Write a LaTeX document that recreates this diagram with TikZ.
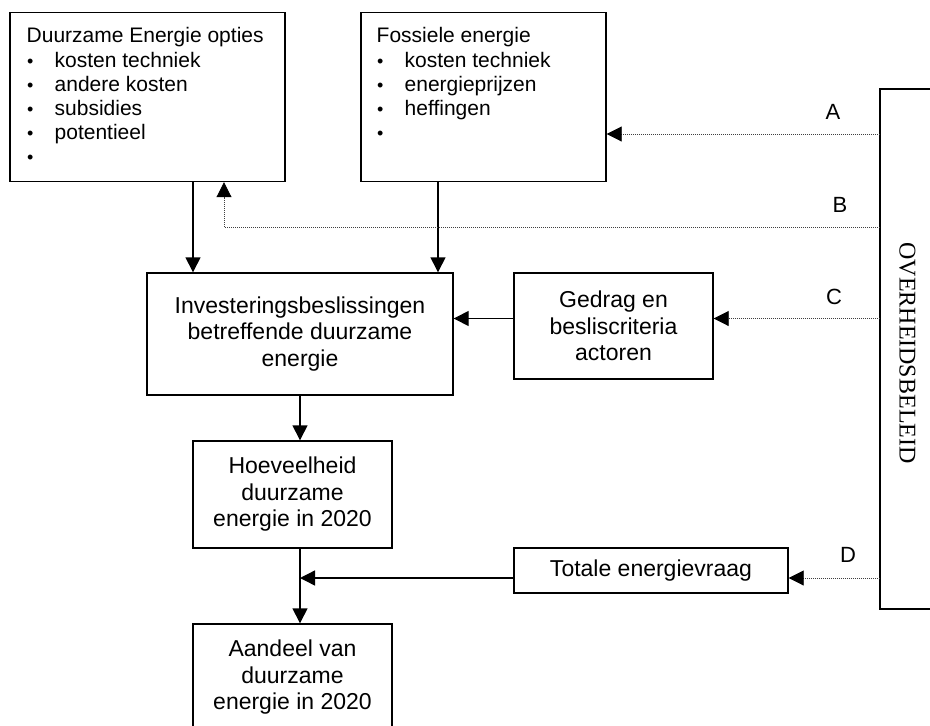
\documentclass[tikz,border=0pt]{standalone}
\usepackage{fontspec}
\setmainfont{Liberation Sans}
\newfontfamily\tnrfont{Liberation Serif}
\usetikzlibrary{arrows.meta}
\newcommand\mybul{\makebox[28pt][l]{\hspace{0.5pt}{\fontsize{18}{18}\selectfont •}}}
\begin{document}
\begin{tikzpicture}[x=1pt,y=-1pt,
  box/.style={draw, line width=1.4pt, inner sep=0pt, align=center},
  big/.style={font=\fontsize{23}{26.5}\selectfont},
  small/.style={font=\fontsize{21}{24.2}\selectfont},
  arr/.style={line width=1.4pt, -{Triangle[length=15pt,width=15pt]}},
  darr/.style={line width=0.9pt, draw=black!75, dash pattern=on 1pt off 1pt, -{Triangle[length=15pt,width=15pt,black]}},
  lab/.style={font=\fontsize{22}{22}\selectfont, inner sep=0pt}]
\useasboundingbox (0,0) rectangle (930,726);
\clip (0,0) rectangle (930,726);

% list boxes
\node[box, minimum width=275pt, minimum height=169pt] (box1) at (147.5,97) {};
\node[small, inner sep=0pt, anchor=north west, align=left] (t1) at (26.5,27.5)
  {Duurzame Energie opties\\\mybul kosten techniek\\\mybul andere kosten\\\mybul subsidies\\\mybul potentieel\\\mybul};
\node[box, minimum width=245pt, minimum height=169pt] (box2) at (483.5,97) {};
\node[small, inner sep=0pt, anchor=north west, align=left] (t2) at (376.5,27.5)
  {Fossiele energie\\\mybul kosten techniek\\\mybul energieprijzen\\\mybul heffingen\\\mybul};

% main boxes
\node[box, big, minimum width=306pt, minimum height=122pt] (invest) at (300,334)
  {Investeringsbeslissingen\\betreffende duurzame\\energie};
\node[box, big, minimum width=199pt, minimum height=106pt] (gedrag) at (613.5,326)
  {Gedrag en\\besliscriteria\\actoren};
\node[box, big, minimum width=199pt, minimum height=107pt] (hoev) at (292.5,494.5)
  {Hoeveelheid\\duurzame\\energie in 2020};
\node[box, big, minimum width=199pt, minimum height=107pt] (aand) at (292.5,677.5)
  {Aandeel van\\duurzame\\energie in 2020};
\node[box, big, minimum width=274pt, minimum height=45pt] (totale) at (651,570.5)
  {Totale energievraag};

% overheidsbeleid
\node[box, minimum width=80pt, minimum height=520pt] (ob) at (920,349) {};
\node[inner sep=0pt, rotate=-90, font=\tnrfont\fontsize{24}{24}\selectfont] (obtext) at (907.5,353) {OVERHEIDSBELEID};

% labels
\node[lab] (la) at (833,112) {A};
\node[lab] (lb) at (840,205) {B};
\node[lab] (lc) at (834,297) {C};
\node[lab] (ld) at (848,555) {D};

% coordinates on the policy box
\coordinate (cA) at (880,134);
\coordinate (cB) at (880,227);
\coordinate (cC) at (880,318.5);
\coordinate (cD) at (880,578);
\coordinate (bturn) at (224,227);

% connectors
\draw[arr] ([xshift=45.5pt]box1.south) -- ([xshift=45.5pt]box1.south |- invest.north);
\draw[arr] ([xshift=-45.5pt]box2.south) -- ([xshift=-45.5pt]box2.south |- invest.north);
\draw[darr] (cA) -- (cA -| box2.east);
\draw[darr] (cB) -- (bturn) -- (bturn |- box1.south);
\draw[darr] (cC) -- (cC -| gedrag.east);
\draw[arr] (cC -| gedrag.west) -- (cC -| invest.east);
\draw[arr] (invest.south) -- (invest.south |- hoev.north);
\draw[arr] (invest.south |- hoev.south) -- (invest.south |- aand.north);
\draw[arr] (cD -| totale.west) -- (cD -| invest.south);
\draw[darr] (cD) -- (cD -| totale.east);
\end{tikzpicture}
\end{document}
